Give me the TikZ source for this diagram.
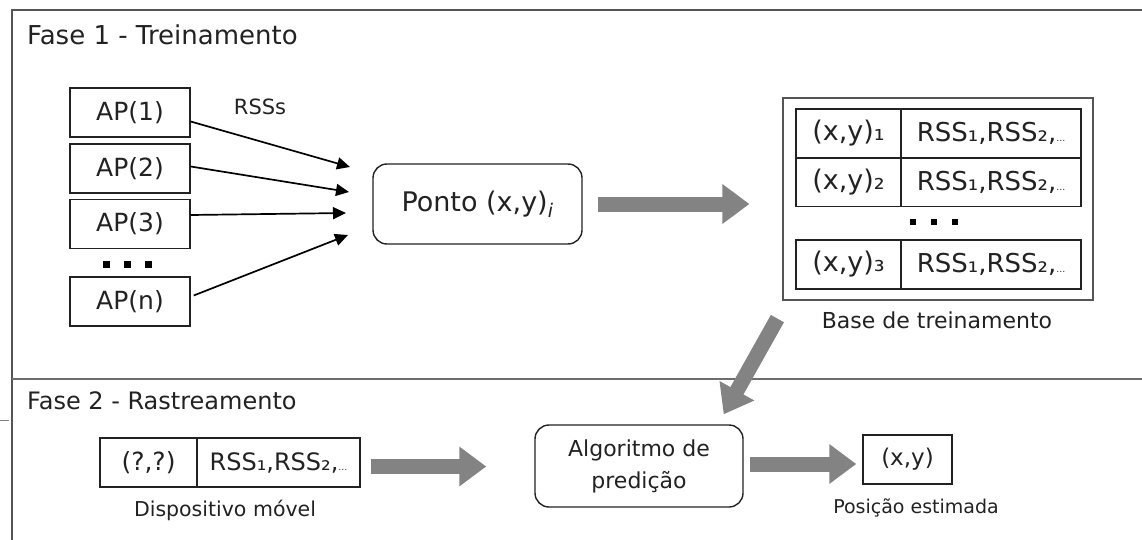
\documentclass[tikz,border=0pt]{standalone}
\usepackage{fontspec}
\setmainfont{DejaVu Sans}
\usetikzlibrary{arrows.meta,calc}
\definecolor{txt}{HTML}{222222}
\definecolor{framec}{HTML}{555555}
\definecolor{fatc}{HTML}{838383}
\newcommand{\fs}[1]{\fontsize{#1}{#1}\selectfont}
\begin{document}
\begin{tikzpicture}[x=1pt,y=-1pt,
  box/.style={draw=txt, line width=1.4pt, inner sep=0pt, minimum height=49pt, text=txt, font=\fs{24}},
  rbox/.style={box, rounded corners=14pt},
  lbl/.style={inner sep=0pt, text=txt, font=\fs{20}},
  ttl/.style={inner sep=0pt, text=txt, font=\fs{24}, anchor=base west},
  sig/.style={draw=black, line width=1.7pt, -{Triangle[length=13pt,width=12pt]}},
  fatarrow/.style={draw=fatc, line width=15pt, -{Triangle[length=27pt,width=38pt]}},
  sq/.style={fill=black, inner sep=0pt, minimum size=7pt},
]
\path[use as bounding box] (0,0) rectangle (1142,540);
% frame
\draw[framec, line width=1.6pt] (1142,10) -- (12,10) -- (12,540);
\draw[framec!85, line width=1.2pt] (12,379) -- (1142,379);
\draw[gray, line width=1pt] (0,420) -- (9,420);
% titles
\node[ttl, font=\fs{26}] (f1) at (27,45) {Fase 1 - Treinamento};
\node[ttl] (f2) at (27,409) {Fase 2 - Rastreamento};
% APs
\node[box, minimum width=120pt, font=\fs{25}] (ap1) at (130,112.5) {AP(1)};
\node[box, minimum width=120pt, font=\fs{25}] (ap2) at (130,168.5) {AP(2)};
\node[box, minimum width=120pt, font=\fs{25}] (ap3) at (130,224) {AP(3)};
\node[box, minimum width=120pt, font=\fs{25}] (apn) at (130,301.5) {AP(n)};
\node[sq] (da1) at (106,264) {};
\node[sq] (da2) at (127,264) {};
\node[sq] (da3) at (148,264) {};
\node[lbl, font=\fs{21}] (rss) at (260,107) {RSSs};
% ponto
\node[rbox, minimum width=209pt, minimum height=80pt, font=\fs{27}] (ponto) at (477.5,204) {Ponto (x,y)\textsubscript{\textit{i}}};
\coordinate (t1) at (350,167);
\coordinate (t2) at (349,192);
\coordinate (t3) at (346,213);
\coordinate (t4) at (348,235);
\draw[sig] ([yshift=-9pt]ap1.east) -- (t1);
\draw[sig] ([yshift=2pt]ap2.east) -- (t2);
\draw[sig] ([yshift=9pt]ap3.east) -- (t3);
\draw[sig] ([xshift=3pt,yshift=6pt]apn.east) -- (t4);
% base
\node[draw=framec, line width=1.2pt, minimum width=310pt, minimum height=202pt, inner sep=0pt] (base) at (938,199) {};
\node[box, minimum width=105pt, font=\fs{27}] (c11) at (848.5,133.5) {(x,y)₁};
\node[box, minimum width=180pt, font=\fs{26}] (c12) at (991,133.5) {RSS₁,RSS₂,{\small …}};
\node[box, minimum width=105pt, font=\fs{27}] (c21) at (848.5,182) {(x,y)₂};
\node[box, minimum width=180pt, font=\fs{26}] (c22) at (991,182) {RSS₁,RSS₂,{\small …}};
\node[box, minimum width=105pt, font=\fs{27}] (c31) at (848.5,264.5) {(x,y)₃};
\node[box, minimum width=180pt, font=\fs{26}] (c32) at (991,264.5) {RSS₁,RSS₂,{\small …}};
\node[sq, minimum size=6pt] (db1) at (912.5,221.5) {};
\node[sq, minimum size=6pt] (db2) at (934,221.5) {};
\node[sq, minimum size=6pt] (db3) at (955,221.5) {};
\node[lbl, font=\fs{22}] (baselbl) at (937,320) {Base de treinamento};
% phase 2
\node[box, minimum width=97pt, font=\fs{25}] (dq) at (148.5,462.5) {(?,?)};
\node[box, minimum width=163pt, font=\fs{24}] (drss) at (278.5,462.5) {RSS₁,RSS₂,{\small …}};
\node[lbl, font=\fs{20.5}] (displbl) at (225,510) {Dispositivo móvel};
\node[rbox, minimum width=208pt, minimum height=82pt, align=center, font=\fontsize{22}{32}\selectfont] (algo) at (639,466) {Algoritmo de\\predição};
\node[box, minimum width=89pt, font=\fs{23}] (res) at (907.5,459.5) {(x,y)};
\node[lbl, font=\fs{19}] (reslbl) at (916,508) {Posição estimada};
% fat arrows
\draw[fatarrow, shorten <=15pt, shorten >=33pt] (ponto.east) -- (ponto.east -| base.west);
\draw[fatarrow] ([xshift=-5pt,yshift=-18pt]base.south west) -- ([xshift=-20pt,yshift=10pt]algo.north east);
\draw[fatarrow, shorten <=10pt, shorten >=48pt] ([yshift=-4pt]drss.east) -- ([yshift=-4pt]drss.east -| algo.west);
\draw[fatarrow, shorten <=6pt, shorten >=6pt] ([yshift=2pt]algo.east) -- ([yshift=2pt]algo.east -| res.west);
\end{tikzpicture}
\end{document}
